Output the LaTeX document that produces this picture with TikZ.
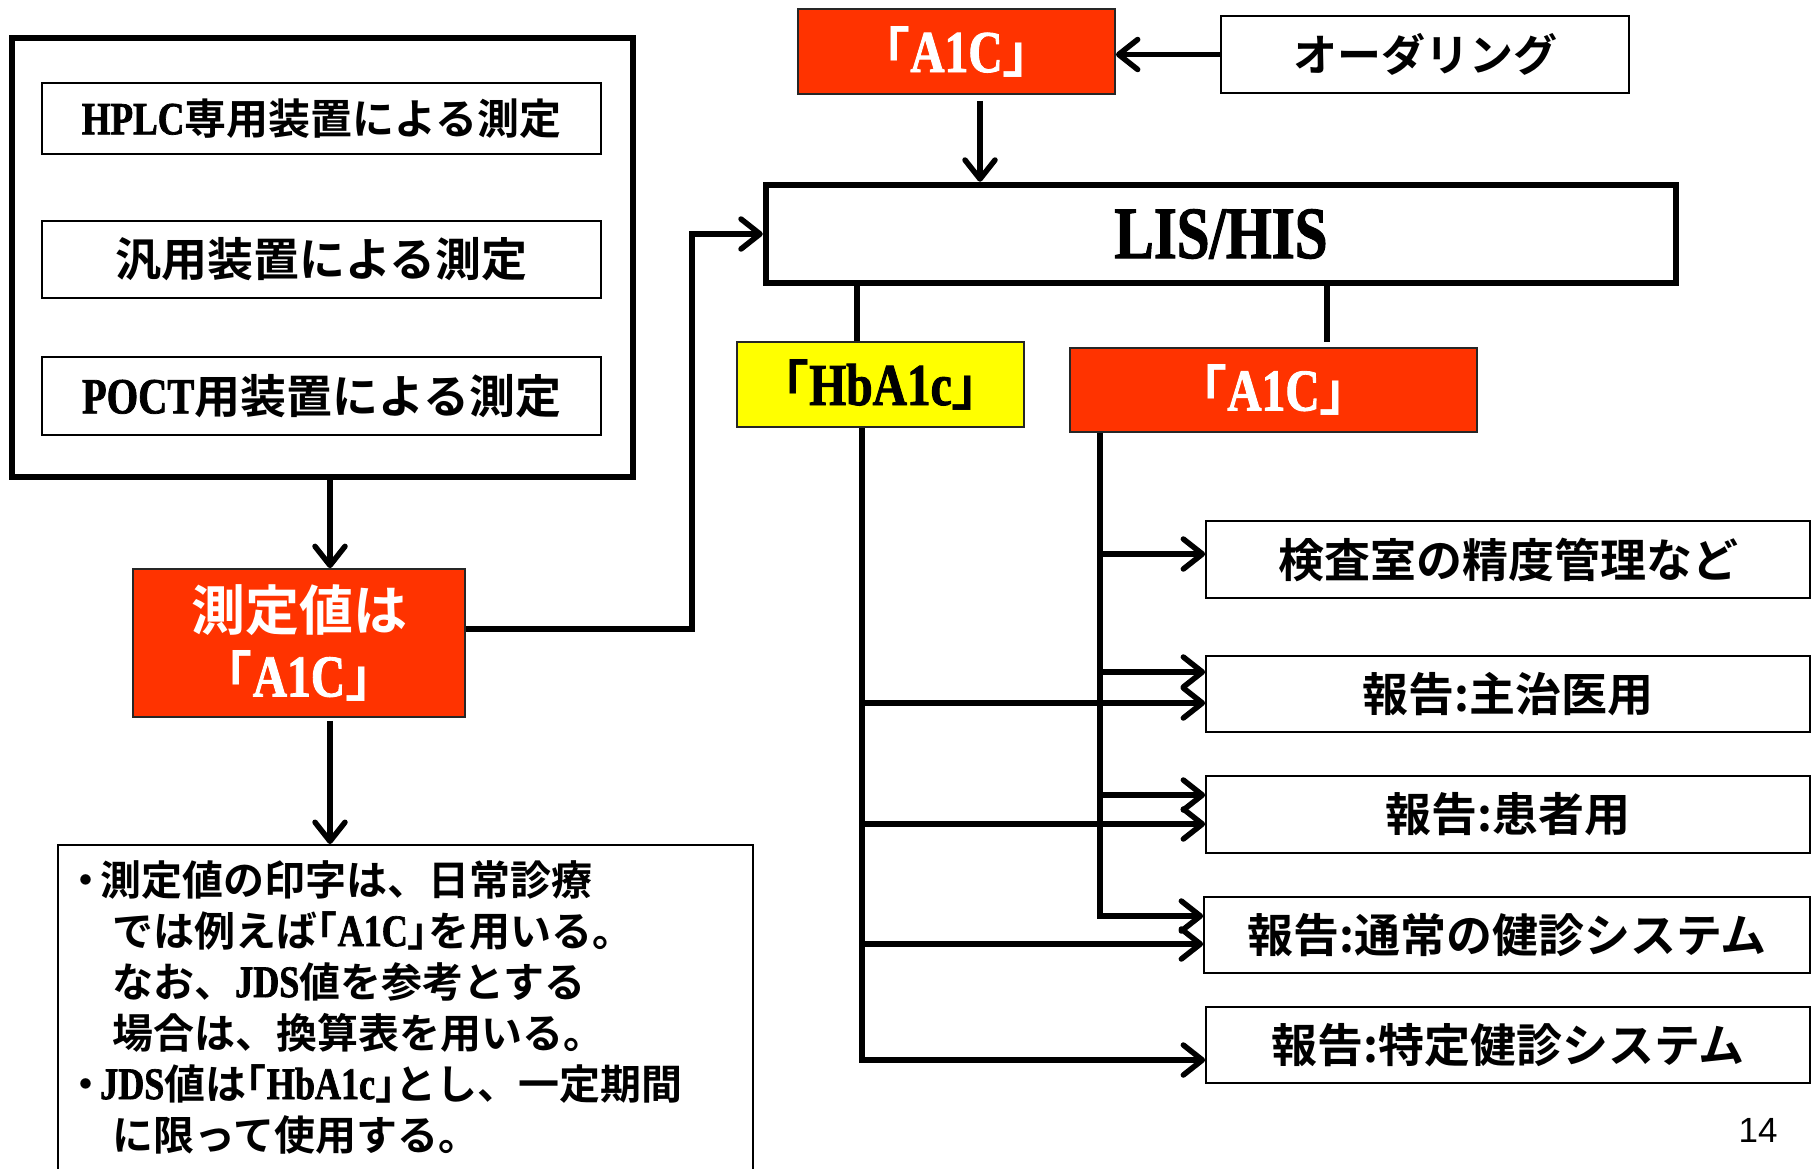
\documentclass[tikz,border=0pt]{standalone}
\usepackage{fontspec}
\setmainfont{Noto Sans CJK JP Bold}
\newfontfamily\lat{Liberation Serif}[Scale=1.1,FakeStretch=0.8,FakeBold=1.5]
\newfontfamily\pnum{Liberation Sans}
\usetikzlibrary{arrows.meta,calc}
\newcommand\LT[1]{{\lat\bfseries #1}}
\newcommand\fsz[1]{\fontsize{#1}{#1}\selectfont}
\newcommand\lbk{\makebox[0.5em][r]{「}}
\newcommand\rbk{\makebox[0.5em][l]{」}}
\newcommand\bul{\makebox[12pt][c]{・}\hspace*{8pt}}
\definecolor{redc}{HTML}{FF3300}
\definecolor{yelc}{HTML}{FFFF00}
\begin{document}
\begin{tikzpicture}[x=1pt,y=-1pt,
  box/.style={draw=black, line width=1.8pt, fill=white, inner sep=0pt, text=black},
  heavybox/.style={draw=black, line width=6pt, fill=white, inner sep=0pt},
  redbox/.style={draw=black!85, line width=1.8pt, fill=redc, text=white, inner sep=0pt},
  yelbox/.style={draw=black!85, line width=1.8pt, fill=yelc, text=black, inner sep=0pt},
  conn/.style={line width=5.5pt},
  arr/.style={line width=5.5pt, -{Straight Barb[length=19pt,width=30pt,round]}}]
\useasboundingbox (0,0) rectangle (1817,1168);
\fill[white] (0,0) rectangle (1817,1168);

% left group
\node[heavybox, minimum width=621, minimum height=439] (outer) at (322.5,257.5) {};
\node[box, minimum width=559, minimum height=71, font=\fsz{42}] (hplc) at (321.5,118.5) {\LT{HPLC}専用装置による測定};
\node[box, minimum width=559, minimum height=77, font=\fsz{46}] (hanyo) at (321.5,259.5) {汎用装置による測定};
\node[box, minimum width=559, minimum height=78, font=\fsz{46}] (poct) at (321.5,396) {\LT{POCT}用装置による測定};

\node[redbox, minimum width=332, minimum height=148, align=center, font=\fontsize{54}{66}\selectfont] (sok) at (299,643) {測定値は\\「\LT{A1C}」};

\node[box, minimum width=695, minimum height=360, anchor=north west] (notesbox) at (57,844) {};
\node[anchor=north west, align=left, inner sep=0pt, font=\fontsize{41}{51}\selectfont] (notes) at (80,860) {%
\bul 測定値の印字は、日常診療\\
\hspace*{32pt}では例えば\lbk\LT{A1C}\rbk を用いる。\\
\hspace*{32pt}なお、\LT{JDS}値を参考とする\\
\hspace*{32pt}場合は、換算表を用いる。\\
\bul\LT{JDS}値は\lbk\LT{HbA1c}\rbk とし、一定期間\\
\hspace*{32pt}に限って使用する。};

% top right
\node[redbox, minimum width=317, minimum height=85, font=\fsz{54}] (a1top) at (956.5,51.5) {「\LT{A1C}」};
\node[box, minimum width=408, minimum height=77, font=\fsz{44}] (order) at (1425,54.5) {オーダリング};
\node[heavybox, line width=6.5pt, minimum width=910, minimum height=98, font=\fsz{67}] (lis) at (1221,234) {\LT{LIS/HIS}};
\node[yelbox, minimum width=287, minimum height=85, font=\fsz{54}] (hb) at (880.5,384.5) {「\LT{HbA1c}」};
\node[redbox, minimum width=407, minimum height=84, font=\fsz{54}] (a1b) at (1273.5,390) {「\LT{A1C}」};

% right boxes
\node[box, minimum width=604, minimum height=77, font=\fsz{46}] (r1) at (1508,559.5) {検査室の精度管理など};
\node[box, minimum width=604, minimum height=76, font=\fsz{46}] (r2) at (1508,694) {報告:主治医用};
\node[box, minimum width=604, minimum height=77, font=\fsz{46}] (r3) at (1508,814.5) {報告:患者用};
\node[box, minimum width=606, minimum height=76, font=\fsz{46}] (r4) at (1507,935) {報告:通常の健診システム};
\node[box, minimum width=604, minimum height=76, font=\fsz{46}] (r5) at (1508,1045) {報告:特定健診システム};

\node[font=\pnum\fsz{35}] (pg) at (1758,1130) {14};

% connectors left
\coordinate (k) at (330,0);
\draw[arr] (outer.south -| k) -- (sok.north -| k);
\draw[arr, shorten <=3pt] (sok.south -| k) -- (notesbox.north -| k);
\coordinate (j) at (692,629);
\draw[arr] (sok.east |- j) -- (j) |- (lis.west);

% connectors top
\draw[arr] (order.west) -- (order.west -| a1top.east);
\coordinate (m) at (980,0);
\draw[arr, shorten <=6pt] (a1top.south -| m) -- (lis.north -| m);
\coordinate (p) at (857,0);
\draw[conn] (lis.south -| p) -- (hb.north -| p);
\coordinate (q) at (1327,0);
\draw[conn, shorten >=5pt] (lis.south -| q) -- (a1b.north -| q);

% A1C trunk
\coordinate (a1) at (1100,554);
\coordinate (a2) at (1100,672);
\coordinate (a3) at (1100,795);
\coordinate (a4) at (1100,916);
\draw[arr] (a1b.south -| a4) -- (a4) -- (a4 -| r4.west);
\draw[arr] (a1) -- (a1 -| r1.west);
\draw[arr] (a2) -- (a2 -| r2.west);
\draw[arr] (a3) -- (a3 -| r3.west);

% HbA1c trunk
\coordinate (h1) at (862,703);
\coordinate (h2) at (862,824);
\coordinate (h3) at (862,944);
\coordinate (h4) at (862,1060);
\draw[arr] (hb.south -| h4) -- (h4) -- (h4 -| r5.west);
\draw[arr] (h1) -- (h1 -| r2.west);
\draw[arr] (h2) -- (h2 -| r3.west);
\draw[arr] (h3) -- (h3 -| r4.west);
\end{tikzpicture}
\end{document}
